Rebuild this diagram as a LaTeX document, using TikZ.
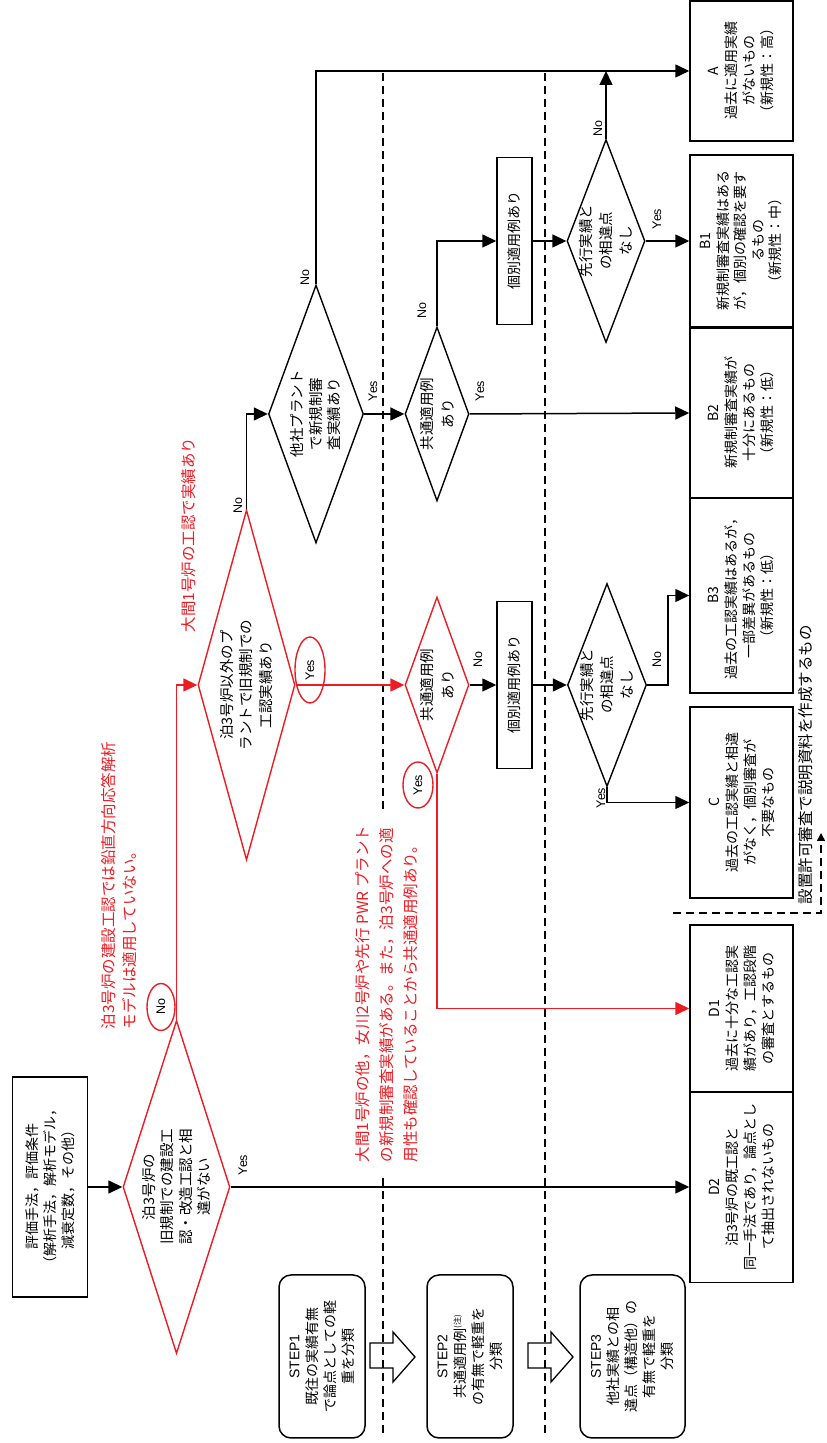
\documentclass[tikz,border=0pt]{standalone}
\usepackage{fontspec}
\setmainfont{Noto Sans CJK JP}
\newfontfamily\latf{Liberation Sans}
\usetikzlibrary{shapes.geometric,arrows.meta}
\definecolor{rd}{RGB}{235,28,36}
\begin{document}
\begin{tikzpicture}[x=1pt,y=-1pt,rotate=90,transform shape,
  line width=1.5pt,
  tip/.style={-{Triangle[length=14pt,width=13pt]}},
  dia/.style={diamond,draw,inner sep=0pt,line width=1.4pt},
  dtext/.style={align=center,font=\fontsize{14.5}{18.5}\selectfont,inner sep=0pt},
  res/.style={draw,minimum height=103pt,align=center,inner sep=0pt,font=\fontsize{14}{18}\selectfont},
  kbox/.style={draw,minimum height=35pt,minimum width=167pt,inner sep=0pt,font=\fontsize{14}{18}\selectfont},
  stepbox/.style={draw,rounded corners=12pt,align=center,inner sep=0pt,minimum width=163pt,font=\fontsize{14}{18}\selectfont},
  lbl/.style={font=\latf\fontsize{12.5}{12.5}\selectfont,inner sep=0pt},
  note/.style={text=rd,align=left,font=\fontsize{15.5}{21}\selectfont,inner sep=0pt,anchor=north west},
  circ/.style={ellipse,draw=rd,inner sep=0pt,line width=1.4pt},
  dsh/.style={dash pattern=on 8pt off 5pt,line width=1.5pt}
]
\useasboundingbox (0,0) rectangle (1443,827);

% step separators
\draw[dsh] (10,383) -- (1371,383);
\draw[dsh] (10,545) -- (1371,545);

% start box
\node[draw,minimum width=220pt,minimum height=75pt,align=center,inner sep=0pt,font=\fontsize{14}{18}\selectfont] (S) at (256,50)
  {評価手法，評価条件\\（解析手法，解析モデル，\\減衰定数，その他）};

% diamonds
\node[dia,draw=rd,minimum width=333pt,minimum height=107pt] (d1) at (256,176.5) {};
\node[dtext] (t1) at (d1) {泊3号炉の\\旧規制での建設工\\認・改造工認と相\\違がない};
\node[dia,draw=rd,minimum width=350pt,minimum height=97pt] (d2) at (758,246.5) {};
\node[dtext,font=\fontsize{14.5}{19.5}\selectfont] (t2) at (d2) {泊3号炉以外のプ\\ラントで旧規制での\\工認実績あり};
\node[dia,minimum width=258pt,minimum height=95pt] (d3) at (1029,316) {};
\node[dtext] (t3) at (d3) {他社プラント\\で新規制審\\査実績あり};
\node[dia,minimum width=174pt,minimum height=64pt] (d5) at (1029,437) {};
\node[dtext,font=\fontsize{14.5}{21}\selectfont] (t5) at (d5) {共通適用例\\あり};
\node[dia,draw=rd,minimum width=176pt,minimum height=64pt] (d4) at (758,437) {};
\node[dtext,font=\fontsize{14.5}{21}\selectfont] (t4) at (d4) {共通適用例\\あり};
\node[kbox] (K1) at (1202,514.5) {個別適用例あり};
\node[kbox] (K2) at (758,514.5) {個別適用例あり};
\node[dia,minimum width=203pt,minimum height=78pt] (d7) at (1202,606) {};
\node[dtext,font=\fontsize{14.5}{20}\selectfont] (t7) at (d7) {先行実績と\\の相違点\\なし};
\node[dia,minimum width=203pt,minimum height=79pt] (d6) at (758,607) {};
\node[dtext,font=\fontsize{14.5}{20}\selectfont] (t6) at (d6) {先行実績と\\の相違点\\なし};

% result boxes
\node[res,minimum width=140pt] (A) at (1372,741.5) {A\\過去に適用実績\\がないもの\\（新規性：高）};
\node[res,minimum width=172pt,font=\fontsize{14}{17.5}\selectfont] (B1) at (1202,741.5) {B1\\新規制審査実績はある\\が，個別の確認を要す\\るもの\\（新規性：中）};
\node[res,minimum width=170pt] (B2) at (1030,741.5) {B2\\新規制審査実績が\\十分にあるもの\\（新規性：低）};
\node[res,minimum width=195pt] (B3) at (847.5,741.5) {B3\\過去の工認実績はあるが，\\一部差異があるもの\\（新規性：低）};
\node[res,minimum width=191pt] (C) at (640.5,741.5) {C\\過去の工認実績と相違\\がなく，個別審査が\\不要なもの};
\node[res,minimum width=167pt] (D1) at (434.5,741.5) {D1\\過去に十分な工認実\\績があり，工認段階\\の審査とするもの};
\node[res,minimum width=191pt] (D2) at (256,741.5) {D2\\泊3号炉の既工認と\\同一手法であり，論点とし\\て抽出されないもの};

% connectors
\draw[tip] (S.south) -- (d1.north);
\draw[tip] (d1.south) -- (D2.north);
\draw[tip,color=rd] (d1.east) -| (d2.north);
\draw[tip] (d2.east) -| (d3.north);
\draw[tip,color=rd] (d2.south) -- (d4.north);
\draw[tip] (d3.south) -- (d5.north);
\draw[tip] (d3.east) -| (A.north);
\draw[tip] (d5.south) -- (B2.north);
\draw[tip] (d5.east) -| (K1.north);
\draw[tip] (K1.south) -- (d7.north);
\draw[tip] (d7.south) -- (B1.north);
\coordinate (Aj) at (1372,606);
\draw[tip] (d7.east) -- (Aj);
\draw[tip] (d4.south) -- (K2.north);
\draw[tip,color=rd] (d4.west) -| (D1.north);
\draw[tip] (K2.south) -- (d6.north);
\draw[tip] (d6.south) -- ++(0,21) -| (B3.north);
\draw[tip] (d6.west) -| (C.north);

% labels
\node[lbl] (y1) at (278,243) {Yes};
\node[circ,minimum width=47pt,minimum height=28pt] (c1) at (436,161) {};
\node[lbl] (n1l) at (c1) {No};
\node[circ,minimum width=66pt,minimum height=30pt] (c2) at (773,310) {};
\node[lbl] (y2) at (c2) {Yes};
\node[lbl] (n2l) at (937,238) {No};
\node[lbl] (y3) at (1052,373) {Yes};
\node[lbl] (n3l) at (1165,305) {No};
\node[lbl] (y5) at (1052,480) {Yes};
\node[lbl] (n5l) at (1132,422) {No};
\node[lbl] (y7) at (1224,657) {Yes};
\node[lbl] (n7l) at (1314,598) {No};
\node[lbl] (n4l) at (783,478) {No};
\node[circ,minimum width=46pt,minimum height=30pt] (c3) at (658,418) {};
\node[lbl] (y4) at (c3) {Yes};
\node[lbl] (n6l) at (783,657) {No};
\node[lbl] (y6) at (645,601) {Yes};

% red notes
\node[note] (r1) at (413,100) {泊3号炉の建設工認では鉛直方向応答解析\\モデルは適用していない。};
\node[note] (r2) at (810,181) {大間1号炉の工認で実績あり};
\node[note,fill=white,inner xsep=12pt,inner ysep=2pt,font=\fontsize{15.5}{24}\selectfont] (r3) at (268,353)
  {大間1号炉の他，女川2号炉や先行 PWR プラント\\の新規制審査実績がある。また，泊3号炉への適\\用性も確認していることから共通適用例あり。};

% steps
\node[stepbox,minimum height=86pt] (st1) at (86.5,322) {{\latf STEP1}\\既往の実績有無\\で論点としての軽\\重を分類};
\node[stepbox,minimum height=86pt] (st2) at (86.5,470) {{\latf STEP2}\\共通適用例\raisebox{5pt}{\fontsize{8}{8}\selectfont (注)}\\の有無で軽重を\\分類};
\node[stepbox,minimum height=105pt] (st3) at (86.5,632.5) {{\latf STEP3}\\他社実績との相\\違点（構造他）の\\有無で軽重を\\分類};
\draw[line width=1.3pt] (75,370) -- (75,393) -- (61,393) -- (86,415) -- (111,393) -- (100,393) -- (100,370) -- cycle;
\draw[line width=1.3pt] (75,528) -- (75,551) -- (61,551) -- (86,573) -- (111,551) -- (100,551) -- (100,528) -- cycle;

% bottom note
\coordinate (bk1) at (530,673);
\coordinate (bk2) at (530,821);
\coordinate (bk3) at (610,821);
\draw[dsh,-{Triangle[length=8pt,width=8pt]}] (bk1) -- (bk2) -- (bk3);
\node[anchor=north west,inner sep=0pt,font=\fontsize{15.5}{20}\selectfont] (bt) at (538,798) {設置許可審査で説明資料を作成するもの};
\end{tikzpicture}
\end{document}
